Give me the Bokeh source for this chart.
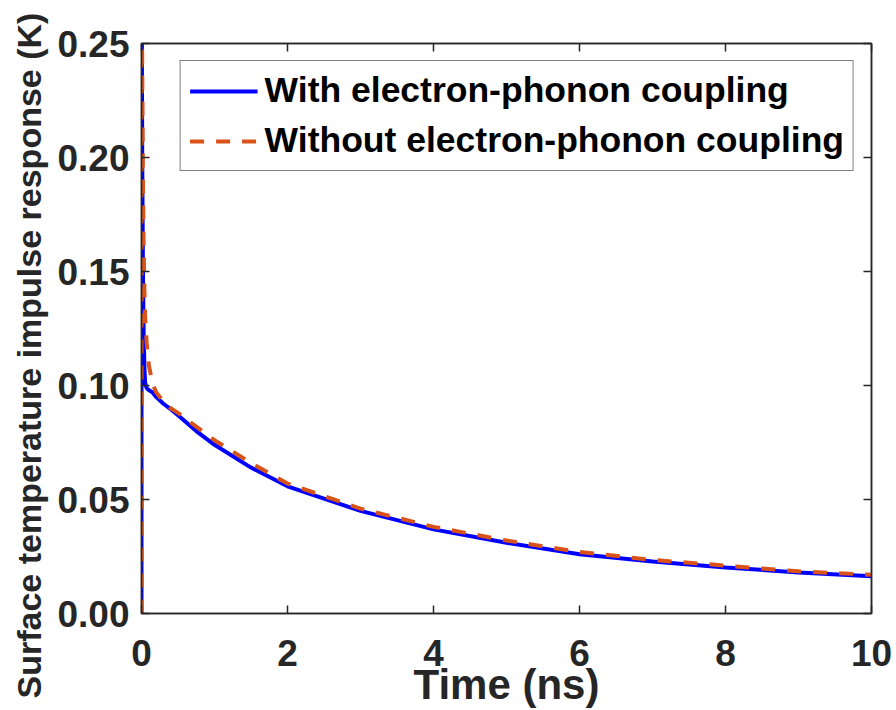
from bokeh.plotting import figure
from bokeh.models import (Range1d, LinearAxis, FixedTicker, Legend, LegendItem,
                          NumeralTickFormatter, CustomJSTickFormatter, Title)
from bokeh.embed import file_html
from bokeh.resources import INLINE

# Time (ns)
time_ns = [0, 0.001, 0.005, 0.01, 0.02, 0.03, 0.04, 0.05, 0.07, 0.1, 0.15, 0.2, 0.3, 0.4,
           0.5, 0.75, 1, 1.5, 2, 3, 4, 5, 6, 7, 8, 9, 10]
with_coupling = [0, 0.5, 0.25, 0.20, 0.15, 0.122, 0.108, 0.101, 0.099, 0.098, 0.097, 0.095,
                 0.092, 0.0896, 0.087, 0.080, 0.074, 0.064, 0.0558, 0.045, 0.0369, 0.031,
                 0.026, 0.0228, 0.0202, 0.018, 0.0163]
without_coupling = [0, 0.5, 0.28, 0.24, 0.19, 0.16, 0.142, 0.13, 0.119, 0.109, 0.101, 0.097,
                    0.093, 0.090, 0.088, 0.082, 0.076, 0.066, 0.057, 0.046, 0.038, 0.032,
                    0.027, 0.0235, 0.021, 0.0185, 0.017]
x_ticks = [0, 2, 4, 6, 8, 10]
y_ticks = [0, 0.05, 0.10, 0.15, 0.20, 0.25]
labels = ["With electron-phonon coupling", "Without electron-phonon coupling"]
x_title = "Time (ns)"
y_title = "Surface temperature impulse response (K)"

FONT = "Liberation Sans"
TXT = "#262626"

p = figure(width=896, height=710, output_backend="svg", toolbar_location=None,
           x_range=Range1d(0, 10), y_range=Range1d(0, 0.25),
           min_border_left=140, min_border_right=25, min_border_top=43, min_border_bottom=97)
p.xgrid.visible = False
p.ygrid.visible = False
p.outline_line_color = TXT
p.outline_line_width = 1.5
p.background_fill_color = "white"
p.border_fill_color = "white"

r1 = p.line(time_ns, with_coupling, line_color="#0000FF", line_width=4)
r2 = p.line(time_ns, without_coupling, line_color="#D95319", line_width=4, line_dash="14 12")

for ax in (p.xaxis[0], p.yaxis[0]):
    ax.major_tick_in = 8
    ax.major_tick_out = 0
    ax.minor_tick_in = 0
    ax.minor_tick_out = 0
    ax.axis_line_color = TXT
    ax.axis_line_width = 1.5
    ax.major_tick_line_color = TXT
    ax.major_tick_line_width = 1.5
    ax.major_label_text_font = FONT
    ax.major_label_text_font_style = "bold"
    ax.major_label_text_font_size = "37px"
    ax.major_label_text_color = TXT
    ax.axis_label_text_font = FONT
    ax.axis_label_text_font_style = "bold"
    ax.axis_label_text_color = TXT

p.xaxis[0].ticker = FixedTicker(ticks=x_ticks)
p.yaxis[0].ticker = FixedTicker(ticks=y_ticks)
p.yaxis[0].formatter = NumeralTickFormatter(format="0.00")
p.xaxis[0].axis_label = x_title
p.xaxis[0].axis_label_text_font_size = "42px"
p.xaxis[0].major_label_standoff = 26
p.yaxis[0].major_label_standoff = 12
p.xaxis[0].axis_label_standoff = -8

# y title as a left-side Title, started below the frame bottom as in the reference
p.add_layout(Title(text=y_title, align="left", offset=-85, standoff=14,
                   text_font=FONT, text_font_style="bold", text_font_size="34px",
                   text_color=TXT), "left")

# box ticks on top and right
blank = CustomJSTickFormatter(code="return ''")
top = LinearAxis(ticker=FixedTicker(ticks=x_ticks), formatter=blank, major_tick_in=8,
                 major_tick_out=0, minor_tick_in=0, minor_tick_out=0,
                 axis_line_color=TXT, axis_line_width=1.5, major_tick_line_color=TXT,
                 major_tick_line_width=1.5, major_label_standoff=0)
right = LinearAxis(ticker=FixedTicker(ticks=y_ticks), formatter=blank, major_tick_in=8,
                   major_tick_out=0, minor_tick_in=0, minor_tick_out=0,
                   axis_line_color=TXT, axis_line_width=1.5, major_tick_line_color=TXT,
                   major_tick_line_width=1.5, major_label_standoff=0)
p.add_layout(top, "above")
p.add_layout(right, "right")

legend = Legend(items=[LegendItem(label=labels[0], renderers=[r1]),
                       LegendItem(label=labels[1], renderers=[r2])],
                location="top_right", margin=17, padding=9, spacing=9,
                glyph_width=68, glyph_height=40, label_standoff=7,
                label_text_font=FONT, label_text_font_style="bold",
                label_text_font_size="35.5px", label_text_color="black",
                border_line_color="black", border_line_width=1.5,
                background_fill_color="white", background_fill_alpha=1.0)
p.add_layout(legend)

open("out.html", "w").write(file_html(p, INLINE))
